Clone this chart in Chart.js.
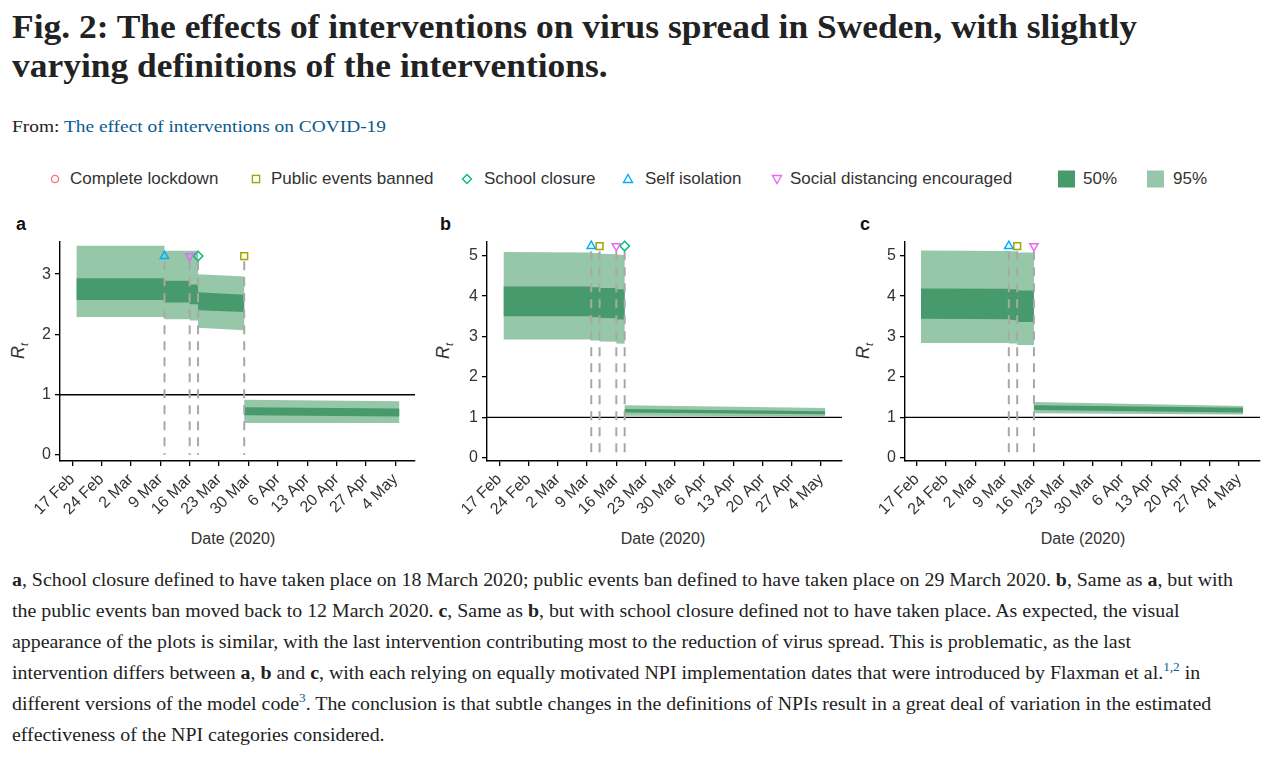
<!DOCTYPE html>
<html><head><meta charset="utf-8">
<script src="https://cdn.jsdelivr.net/npm/chart.js@4.4.0/dist/chart.umd.min.js"></script>
<style>
html,body{margin:0;padding:0;background:#fff;}
body{width:1273px;height:759px;position:relative;overflow:hidden;}
.abs{position:absolute;white-space:nowrap;}
.title{font-family:"Liberation Serif",serif;font-weight:bold;font-size:34px;color:#222;line-height:42px;transform-origin:0 50%;}
.from{font-family:"Liberation Serif",serif;font-size:17px;color:#222;line-height:20px;transform-origin:0 50%;}
.from span{color:#0b5a8c;}
.cap{font-family:"Liberation Serif",serif;font-size:18px;color:#222;line-height:31px;transform-origin:0 50%;}
.cap sup{font-size:12px;line-height:0;position:relative;top:-1px;color:#0b5a8c;}
.leg{font-family:"Liberation Sans",Arial,sans-serif;font-size:17px;color:#333;line-height:20px;}
.plab{font-family:"Liberation Sans",Arial,sans-serif;font-weight:bold;font-size:18px;color:#111;line-height:20px;}
.xt{font-family:"Liberation Sans",Arial,sans-serif;font-size:16px;color:#333;line-height:20px;transform:translate(-50%,-50%);}
.rt{font-family:"Liberation Sans",Arial,sans-serif;font-style:italic;font-size:18px;color:#333;line-height:20px;transform:translate(-50%,-50%) rotate(-90deg);}
.rt sub{font-size:11px;}
canvas{position:absolute;}
</style></head>
<body>
<div class="abs title" id="t1" style="left:12px;top:6px;">Fig. 2: The effects of interventions on virus spread in Sweden, with slightly</div>
<div class="abs title" id="t2" style="left:12px;top:45px;">varying definitions of the interventions.</div>
<div class="abs from" id="from" style="left:12px;top:117px;">From: <span>The effect of interventions on COVID-19</span></div>

<div id="legend"></div>

<div class="abs plab" style="left:16px;top:214px;">a</div>
<div class="abs plab" style="left:440px;top:214px;">b</div>
<div class="abs plab" style="left:860px;top:214px;">c</div>

<div class="abs rt" style="left:21px;top:351px;">R<sub>t</sub></div>
<div class="abs rt" style="left:446px;top:351px;">R<sub>t</sub></div>
<div class="abs rt" style="left:866px;top:351px;">R<sub>t</sub></div>

<div class="abs xt" style="left:233px;top:539px;">Date (2020)</div>
<div class="abs xt" style="left:663px;top:539px;">Date (2020)</div>
<div class="abs xt" style="left:1083px;top:539px;">Date (2020)</div>

<div class="abs cap" id="c1" style="left:12px;top:565px;"><b>a</b>, School closure defined to have taken place on 18 March 2020; public events ban defined to have taken place on 29 March 2020. <b>b</b>, Same as <b>a</b>, but with</div>
<div class="abs cap" id="c2" style="left:12px;top:596px;">the public events ban moved back to 12 March 2020. <b>c</b>, Same as <b>b</b>, but with school closure defined not to have taken place. As expected, the visual</div>
<div class="abs cap" id="c3" style="left:12px;top:627px;">appearance of the plots is similar, with the last intervention contributing most to the reduction of virus spread. This is problematic, as the last</div>
<div class="abs cap" id="c4" style="left:12px;top:658px;">intervention differs between <b>a</b>, <b>b</b> and <b>c</b>, with each relying on equally motivated NPI implementation dates that were introduced by Flaxman et al.<sup>1,2</sup> in</div>
<div class="abs cap" id="c5" style="left:12px;top:689px;">different versions of the model code<sup>3</sup>. The conclusion is that subtle changes in the definitions of NPIs result in a great deal of variation in the estimated</div>
<div class="abs cap" id="c6" style="left:12px;top:720px;">effectiveness of the NPI categories considered.</div>

<script>
// ---------- data ----------
const tickDays = [0, 7, 14, 21, 28, 35, 42, 49, 56, 63, 70, 77];
const tickLabels = ['17 Feb', '24 Feb', '2 Mar', '9 Mar', '16 Mar', '23 Mar', '30 Mar', '6 Apr', '13 Apr', '20 Apr', '27 Apr', '4 May'];

const interventionNames = ['Complete lockdown', 'Public events banned', 'School closure', 'Self isolation', 'Social distancing encouraged'];
const interventionColors = ['#F8766D', '#A3A500', '#00BF7D', '#00B0F6', '#E76BF3'];
const intervalNames = ['50%', '95%'];

// panel a (days since 17 Feb 2020)
const aDays = [1, 22, 22, 28, 28, 30, 30, 41, 41, 78];
const aHi95 = [3.47, 3.47, 3.39, 3.39, 3.39, 3.39, 3.00, 2.96, 0.915, 0.89];
const aLo95 = [2.29, 2.29, 2.25, 2.25, 2.23, 2.23, 2.11, 2.07, 0.53, 0.53];
const aHi50 = [2.93, 2.93, 2.89, 2.89, 2.83, 2.83, 2.70, 2.66, 0.79, 0.77];
const aLo50 = [2.57, 2.57, 2.53, 2.53, 2.50, 2.50, 2.40, 2.37, 0.66, 0.64];
const aEventDays = [22, 28, 30, 41];
const aEventTypes = [3, 4, 2, 1];
const aMarkerY = 3.30;
const aYTicks = [0, 1, 2, 3];

// panel b
const bDays = [1, 22, 22, 24, 24, 28, 28, 30, 30, 78];
const bHi95 = [5.09, 5.08, 5.07, 5.07, 5.05, 5.04, 5.03, 5.02, 1.30, 1.23];
const bLo95 = [2.93, 2.93, 2.90, 2.90, 2.88, 2.87, 2.83, 2.82, 1.04, 1.03];
const bHi50 = [4.24, 4.24, 4.22, 4.22, 4.20, 4.20, 4.17, 4.17, 1.21, 1.15];
const bLo50 = [3.50, 3.50, 3.48, 3.48, 3.46, 3.45, 3.42, 3.42, 1.12, 1.08];
const bEventDays = [22, 24, 28, 30];
const bEventTypes = [3, 1, 4, 2];
const bMarkerY = 5.24;
const bYTicks = [0, 1, 2, 3, 4, 5];

// panel c
const cDays = [1, 22, 22, 24, 24, 28, 28, 78];
const cHi95 = [5.13, 5.12, 5.11, 5.11, 5.08, 5.08, 1.38, 1.28];
const cLo95 = [2.84, 2.84, 2.83, 2.83, 2.79, 2.79, 1.10, 1.07];
const cHi50 = [4.19, 4.18, 4.17, 4.17, 4.14, 4.14, 1.30, 1.24];
const cLo50 = [3.44, 3.43, 3.42, 3.40, 3.36, 3.36, 1.18, 1.12];
const cEventDays = [22, 24, 28];
const cEventTypes = [3, 1, 4];
const cMarkerY = 5.24;
const cYTicks = [0, 1, 2, 3, 4, 5];

// ---------- styles ----------
const LIGHT = '#97C7A9', DARK = '#479A6B';
const SANS = '"Liberation Sans", Arial, sans-serif';
const styleOf = [
  {ps: 'circle', rot: 0},
  {ps: 'rect', rot: 0},
  {ps: 'rectRot', rot: 0},
  {ps: 'triangle', rot: 0},
  {ps: 'triangle', rot: 180}
];

// ---------- text fitting ----------
function measure(el){ return el.getBoundingClientRect().width; }
function fitGroup(ids, target){
  const first = document.getElementById(ids[0]);
  const s = target / measure(first);
  ids.forEach(id => { document.getElementById(id).style.transform = 'scaleX(' + s + ')'; });
}
fitGroup(['t1','t2'], 1125);
fitGroup(['c1','c2','c3','c4','c5','c6'], 1221);
fitGroup(['from'], 374);

// ---------- legend ----------
(function(){
  const L = document.getElementById('legend');
  const markerX = [55, 256, 467, 628, 777];
  const textX = [70, 271, 484, 645, 790];
  const cy = 179;
  let svg = '<svg class="abs" style="left:0;top:160px" width="1273" height="40" xmlns="http://www.w3.org/2000/svg">';
  const y = cy - 160;
  markerX.forEach((x, i) => {
    const c = interventionColors[i];
    const r = 3.6;
    if (i === 0) svg += `<circle cx="${x}" cy="${y}" r="${r}" fill="none" stroke="${c}" stroke-width="1.4"/>`;
    if (i === 1) svg += `<rect x="${x-r}" y="${y-r}" width="${2*r}" height="${2*r}" fill="none" stroke="${c}" stroke-width="1.4"/>`;
    if (i === 2) svg += `<polygon points="${x},${y-4.5} ${x+4.5},${y} ${x},${y+4.5} ${x-4.5},${y}" fill="none" stroke="${c}" stroke-width="1.4"/>`;
    if (i === 3) svg += `<polygon points="${x},${y-4.5} ${x+4.5},${y+3.5} ${x-4.5},${y+3.5}" fill="none" stroke="${c}" stroke-width="1.4"/>`;
    if (i === 4) svg += `<polygon points="${x},${y+4.5} ${x+4.5},${y-3.5} ${x-4.5},${y-3.5}" fill="none" stroke="${c}" stroke-width="1.4"/>`;
  });
  svg += `<rect x="1058" y="${y-8.5}" width="17" height="17" fill="${DARK}"/>`;
  svg += `<rect x="1147" y="${y-8.5}" width="17" height="17" fill="${LIGHT}"/>`;
  svg += '</svg>';
  let html = svg;
  interventionNames.forEach((n, i) => {
    html += `<div class="abs leg" style="left:${textX[i]}px;top:169px;">${n}</div>`;
  });
  html += `<div class="abs leg" style="left:1083px;top:169px;">${intervalNames[0]}</div>`;
  html += `<div class="abs leg" style="left:1173px;top:169px;">${intervalNames[1]}</div>`;
  L.innerHTML = html;
})();

// ---------- charts ----------
const panels = [
  {days: aDays, hi95: aHi95, lo95: aLo95, hi50: aHi50, lo50: aLo50, ev: aEventDays, evT: aEventTypes, my: aMarkerY, yt: aYTicks,
   xMin: -2.9, xMax: 81.7, yMin: -0.1, yMax: 3.54, area: {l: 60, r: 415, t: 240, b: 461}},
  {days: bDays, hi95: bHi95, lo95: bLo95, hi50: bHi50, lo50: bLo50, ev: bEventDays, evT: bEventTypes, my: bMarkerY, yt: bYTicks,
   xMin: -2.94, xMax: 82, yMin: -0.08, yMax: 5.35, area: {l: 486.7, r: 841.7, t: 240, b: 460.7}},
  {days: cDays, hi95: cHi95, lo95: cLo95, hi50: cHi50, lo50: cLo50, ev: cEventDays, evT: cEventTypes, my: cMarkerY, yt: cYTicks,
   xMin: -2.8, xMax: 82, yMin: -0.08, yMax: 5.35, area: {l: 905, r: 1260, t: 240, b: 460.7}}
];

const pts = (xs, ys) => xs.map((x, i) => ({x: x, y: ys[i]}));

panels.forEach(p => {
  const yw = 50, xh = 80, padT = 12, padR = 10;
  const W = Math.round(p.area.r - p.area.l + yw + padR);
  const H = Math.round(p.area.b - p.area.t + padT + xh);
  const cv = document.createElement('canvas');
  cv.width = W; cv.height = H;
  cv.style.left = (p.area.l - yw) + 'px';
  cv.style.top = (p.area.t - padT) + 'px';
  document.body.appendChild(cv);

  const ds = [];
  ds.push({type: 'line', data: pts(p.days, p.hi95), fill: '+1', backgroundColor: LIGHT, borderColor: 'rgba(0,0,0,0)', borderWidth: 0, pointRadius: 0, order: 6});
  ds.push({type: 'line', data: pts(p.days, p.lo95), fill: false, borderColor: 'rgba(0,0,0,0)', borderWidth: 0, pointRadius: 0, order: 6});
  ds.push({type: 'line', data: pts(p.days, p.hi50), fill: '+1', backgroundColor: DARK, borderColor: 'rgba(0,0,0,0)', borderWidth: 0, pointRadius: 0, order: 5});
  ds.push({type: 'line', data: pts(p.days, p.lo50), fill: false, borderColor: 'rgba(0,0,0,0)', borderWidth: 0, pointRadius: 0, order: 5});
  ds.push({type: 'line', data: [{x: p.xMin, y: 1}, {x: p.xMax, y: 1}], fill: false, borderColor: '#000', borderWidth: 1.4, pointRadius: 0, order: 4});
  p.ev.forEach(d => {
    ds.push({type: 'line', data: [{x: d, y: p.my - 0.02 * (p.yMax - p.yMin) * 1.2}, {x: d, y: 0}], fill: false,
      borderColor: '#a8a8a8', borderWidth: 2, borderDash: [9, 7], pointRadius: 0, order: 3});
  });
  p.ev.forEach((d, i) => {
    const t = p.evT[i], st = styleOf[t];
    ds.push({type: 'scatter', data: [{x: d, y: p.my}], pointStyle: st.ps, rotation: st.rot, pointRotation: st.rot,
      radius: 4.8, pointRadius: 4.8, borderColor: interventionColors[t], pointBorderColor: interventionColors[t],
      backgroundColor: 'rgba(255,255,255,0)', pointBackgroundColor: 'rgba(255,255,255,0)', borderWidth: 1.5, pointBorderWidth: 1.5,
      clip: false, order: 1});
  });

  new Chart(cv, {
    type: 'line',
    data: {datasets: ds},
    options: {
      responsive: false, animation: false, events: [],
      layout: {padding: {left: 0, right: padR, top: padT, bottom: 0}},
      plugins: {legend: {display: false}, tooltip: {enabled: false}, title: {display: false}},
      scales: {
        x: {
          type: 'linear', min: p.xMin, max: p.xMax,
          afterBuildTicks: s => { s.ticks = tickDays.map(v => ({value: v})); },
          afterFit: s => { s.height = xh; },
          ticks: {autoSkip: false, maxRotation: 45, minRotation: 45, padding: 4, color: '#333',
            font: {family: SANS, size: 16},
            callback: v => { const i = tickDays.indexOf(v); return i >= 0 ? tickLabels[i] : ''; }},
          grid: {display: true, drawOnChartArea: false, drawTicks: true, tickLength: 5, color: '#000', lineWidth: 1.3},
          border: {display: true, color: '#000', width: 1.4}
        },
        y: {
          type: 'linear', min: p.yMin, max: p.yMax,
          afterBuildTicks: s => { s.ticks = p.yt.map(v => ({value: v})); },
          afterFit: s => { s.width = yw; },
          ticks: {padding: 4, color: '#333', font: {family: SANS, size: 16}},
          grid: {display: true, drawOnChartArea: false, drawTicks: true, tickLength: 5, color: '#000', lineWidth: 1.3},
          border: {display: true, color: '#000', width: 1.4}
        }
      }
    }
  });
});
</script>
</body></html>
